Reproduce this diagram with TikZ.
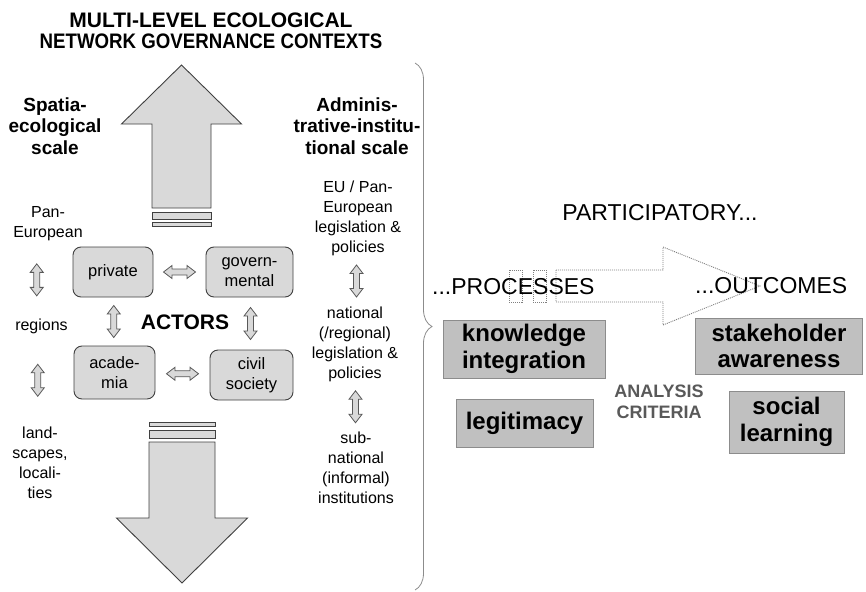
\documentclass[tikz,border=0pt]{standalone}
\usepackage{fontspec}
\setmainfont{Liberation Sans}
\usetikzlibrary{arrows.meta, positioning, calc, decorations.pathreplacing}
\definecolor{BoxGrey}{HTML}{D9D9D9}
\definecolor{CritGrey}{HTML}{C0C0C0}
\definecolor{EdgeGrey}{HTML}{404040}
\definecolor{LabelGrey}{HTML}{595959}

\begin{document}
\begin{tikzpicture}[
    x=1pt, y=-1pt, >=Stealth, font=\fontsize{16}{20}\selectfont,
    title/.style={align=center, inner sep=0pt, font=\fontsize{21}{20.5}\selectfont\bfseries},
    scalehead/.style={align=center, inner sep=0pt, font=\fontsize{19}{21.5}\selectfont\bfseries},
    lvl/.style={align=center, inner sep=0pt},
    actor/.style={draw=EdgeGrey, fill=BoxGrey, rounded corners=8pt, align=center,
      line width=0.9pt, inner sep=0pt, font=\fontsize{16.5}{20}\selectfont},
    crit/.style={draw=black!45, fill=CritGrey, align=center, line width=1pt,
      inner sep=0pt, font=\fontsize{24}{26.5}\selectfont\bfseries},
    bigarrow/.style={draw=EdgeGrey, fill=BoxGrey, line width=0.9pt},
    dblfill/.style={draw=LabelGrey, fill=BoxGrey, line width=0.8pt},
    pathdots/.style={draw=black!50, line width=0.9pt, dash pattern=on 1pt off 1pt},
    pics/dblh/.style={code={
      \path[dblfill] (-16,0) -- (-7.5,-6.5) -- (-7.5,-3) -- (7.5,-3) -- (7.5,-6.5) -- (16,0)
        -- (7.5,6.5) -- (7.5,3) -- (-7.5,3) -- (-7.5,6.5) -- cycle;}},
  ]
  \useasboundingbox (0,0) rectangle (866,591);

  % upward arrow, two stripes under the shaft
  \def\cU{181.5}\def\wU{29.5}\def\hU{60}
  \draw[bigarrow] (\cU,65) -- (\cU+\hU,124) -- (\cU+\wU,124) -- (\cU+\wU,208)
    -- (\cU-\wU,208) -- (\cU-\wU,124) -- (\cU-\hU,124) -- cycle;
  \draw[bigarrow] (\cU-\wU,212) rectangle (\cU+\wU,219);
  \draw[bigarrow] (\cU-\wU,222) rectangle (\cU+\wU,226);
  % downward arrow, stripes above the shaft
  \def\cD{182}\def\wD{33}\def\hD{65.5}
  \draw[bigarrow] (\cD-\wD,422) rectangle (\cD+\wD,426);
  \draw[bigarrow] (\cD-\wD,430) rectangle (\cD+\wD,438);
  \draw[bigarrow] (\cD,583) -- (\cD+\hD,518) -- (\cD+\wD,518) -- (\cD+\wD,442)
    -- (\cD-\wD,442) -- (\cD-\wD,518) -- (\cD-\hD,518) -- cycle;

  % title and the two scales
  \node[title] (ttl) at (211,31) {MULTI-LEVEL ECOLOGICAL\\\scalebox{0.89}[1]{NETWORK GOVERNANCE CONTEXTS}};
  \node[scalehead] (spat) at (55,126) {Spatia-\\ecological\\scale};
  \node[scalehead] (admin) at (357,126) {Adminis-\\trative-institu-\\tional scale};

  % spatial levels
  \node[lvl] (pan) at (48,224) {Pan-\\European};
  \node[lvl] (reg) at (41.5,326) {regions};
  \node[lvl] (land) at (40,463) {land-\\scapes,\\locali-\\ties};
  \pic[rotate=90] at ($(pan.south)!0.5!(reg.north)+(-8,0)$) {dblh};
  \pic[rotate=90] at ($(reg.south)!0.5!(land.north)+(-3,0)$) {dblh};

  % administrative levels
  \node[lvl] (eu) at (358,218) {EU / Pan-\\European\\legislation \&\\policies};
  \node[lvl] (nat) at (355,344) {national\\(/regional)\\legislation \&\\policies};
  \node[lvl] (sub) at (356,468) {sub-\\national\\(informal)\\institutions};
  \pic[rotate=90] at ($(eu.south)!0.5!(nat.north)$) {dblh};
  \pic[rotate=90] at ($(nat.south)!0.5!(sub.north)$) {dblh};

  % actors
  \node[actor, minimum width=80pt, minimum height=50pt] (priv) at (113,272) {private};
  \node[actor, minimum width=87pt, minimum height=50pt] (gov) at (249.5,272) {govern-\\mental};
  \node[actor, minimum width=81pt, minimum height=53pt] (acad) at (114.5,372.5) {acade-\\mia};
  \node[actor, minimum width=83pt, minimum height=50pt] (civ) at (251.5,375) {civil\\society};
  \node[font=\fontsize{21}{24}\selectfont\bfseries] (act) at (185,322) {ACTORS};
  \pic at ($(priv.east)!0.5!(gov.west)$) {dblh};
  \pic at ($(acad.east)!0.5!(civ.west)$) {dblh};
  \pic[rotate=90] at ($(priv.south)!0.5!(acad.north)$) {dblh};
  \pic[rotate=90] at ($(gov.south)!0.5!(civ.north)$) {dblh};

  % brace towards the participatory side
  \draw[black!45, line width=0.8pt, decorate, decoration={brace, amplitude=17pt}]
    (415,63) -- (415,590);

  % striped outline arrow from processes to outcomes
  \draw[pathdots] (509,270) rectangle (522,302);
  \draw[pathdots] (533,270) rectangle (546,302);
  \draw[pathdots] (556,270) -- (663,270) -- (663,247) -- (760,286) -- (663,325)
    -- (663,302) -- (556,302) -- cycle;
  \node[font=\fontsize{23}{26}\selectfont] (part) at (660,213) {PARTICIPATORY...};
  \node[font=\fontsize{23}{26}\selectfont, anchor=west, inner sep=0pt] (proc) at (432,287) {...PROCESSES};
  \node[font=\fontsize{23}{26}\selectfont, anchor=west, inner sep=0pt] (outc) at (695,286) {...OUTCOMES};

  % analysis criteria
  \node[crit, minimum width=162pt, minimum height=58pt] (know) at (524,349) {knowledge\\integration};
  \node[crit, minimum width=137pt, minimum height=48pt] (legit) at (524.5,423) {legitimacy};
  \node[crit, minimum width=167pt, minimum height=56pt] (aware) at (779,346) {stakeholder\\awareness};
  \node[crit, minimum width=115pt, minimum height=62pt] (learn) at (786.5,422) {social\\learning};
  \node[align=center, text=LabelGrey, font=\fontsize{18}{21}\selectfont\bfseries] (crt) at (659,402) {ANALYSIS\\CRITERIA};
\end{tikzpicture}
\end{document}
